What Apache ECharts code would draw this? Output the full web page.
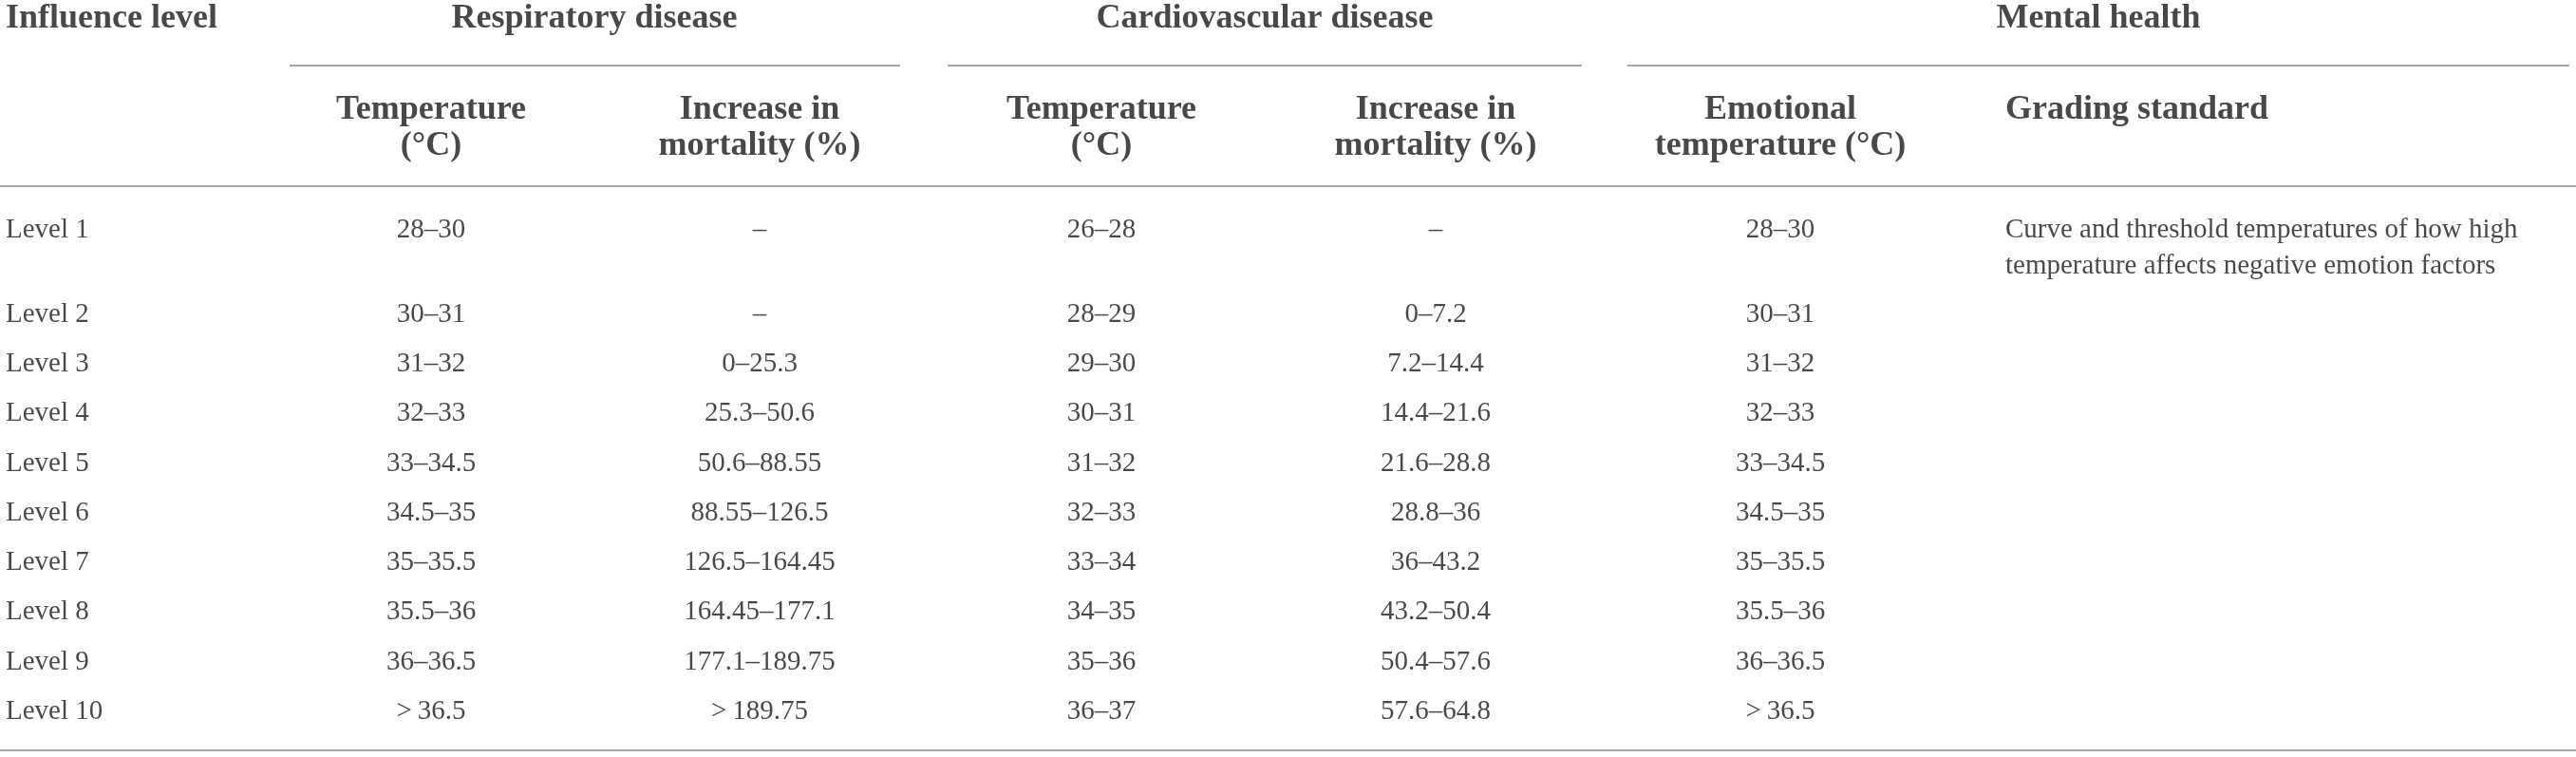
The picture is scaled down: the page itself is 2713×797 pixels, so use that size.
<!DOCTYPE html>
<html>
<head>
<meta charset="utf-8">
<title>Influence level table</title>
<script src="https://cdn.jsdelivr.net/npm/echarts@6/dist/echarts.min.js"></script>
<style>
    html, body { margin: 0; padding: 0; background: #fff; }
    #table-wrap { width: 2713px; height: 797px; }
</style>
</head>
<body>
<div id="table-wrap"></div>
<script>
// table contents
const levels = ["Level 1", "Level 2", "Level 3", "Level 4", "Level 5", "Level 6", "Level 7", "Level 8", "Level 9", "Level 10"];
const respTemp = ["28–30", "30–31", "31–32", "32–33", "33–34.5", "34.5–35", "35–35.5", "35.5–36", "36–36.5", ">\u200936.5"];
const respMortality = ["–", "–", "0–25.3", "25.3–50.6", "50.6–88.55", "88.55–126.5", "126.5–164.45", "164.45–177.1", "177.1–189.75", ">\u2009189.75"];
const cardioTemp = ["26–28", "28–29", "29–30", "30–31", "31–32", "32–33", "33–34", "34–35", "35–36", "36–37"];
const cardioMortality = ["–", "0–7.2", "7.2–14.4", "14.4–21.6", "21.6–28.8", "28.8–36", "36–43.2", "43.2–50.4", "50.4–57.6", "57.6–64.8"];
const emotionalTemp = ["28–30", "30–31", "31–32", "32–33", "33–34.5", "34.5–35", "35–35.5", "35.5–36", "36–36.5", ">\u200936.5"];
const gradingStandard = ["Curve and threshold temperatures of how high\ntemperature affects negative emotion factors"];

const groupHeaders = ["Respiratory disease", "Cardiovascular disease", "Mental health"];
const columnHeaders = ["Influence level", "Temperature\n(°C)", "Increase in\nmortality (%)", "Temperature\n(°C)", "Increase in\nmortality (%)", "Emotional\ntemperature (°C)", "Grading standard"];

// layout (pixels in axis space, grid covers the whole canvas)
const W = 2713, H = 797;
const colX = [6, 454, 800, 1160, 1512, 1875, 2112];
const colAlign = ["left", "center", "center", "center", "center", "center", "left"];
const groupX = [626, 1332, 2210];
const groupRules = [[305, 948], [998, 1666], [1714, 2706]];
const firstRowY = 242, secondRowY = 331, rowStep = 52.3;
const font = "Liberation Serif";
const ink = "#1a1a1a";
const ruleColor = "#a6a6a6";

function rowY(i) {
    return i === 0 ? firstRowY : secondRowY + (i - 1) * rowStep;
}

function textSeries(name, items, opts) {
    return {
        name: name,
        type: "scatter",
        symbolSize: 0,
        silent: true,
        itemStyle: { color: "transparent" },
        label: {
            show: true,
            position: "inside",
            formatter: (p) => p.data.text,
            align: opts.align,
            verticalAlign: "middle",
            fontFamily: font,
            fontSize: opts.size,
            fontWeight: opts.weight || "normal",
            lineHeight: opts.lineHeight || opts.size * 1.2,
            color: ink,
        },
        data: items,
    };
}

const bodyColumns = [levels, respTemp, respMortality, cardioTemp, cardioMortality, emotionalTemp];
const series = [];

bodyColumns.forEach((col, c) => {
    series.push(textSeries("col" + c, col.map((t, i) => ({ value: [colX[c], rowY(i)], text: t })), { align: colAlign[c], size: 29 }));
});

// grading standard text spans the first row, two lines
series.push(textSeries("grading", gradingStandard.map((t) => ({ value: [colX[6], firstRowY + 19], text: t })), { align: "left", size: 29, lineHeight: 38 }));

// header rows
series.push(textSeries("groups", groupHeaders.map((t, i) => ({ value: [groupX[i], 20], text: t })), { align: "center", size: 36, weight: "bold" }));
series.push(textSeries("influence", [{ value: [colX[0], 20], text: columnHeaders[0] }], { align: "left", size: 36, weight: "bold" }));
series.push(textSeries("subheads", columnHeaders.slice(1).map((t, i) => {
    const c = i + 1;
    const twoLine = t.indexOf("\n") >= 0;
    return { value: [colX[c], twoLine ? 135 : 116], text: t };
}), { align: "center", size: 36, weight: "bold", lineHeight: 38 }));
// left aligned header for grading standard
series[series.length - 1].data[5].label = { align: "left" };

// horizontal rules
const ruleLines = groupRules.map((r) => [{ coord: [r[0], 69] }, { coord: [r[1], 69] }]);
ruleLines.push([{ coord: [0, 196] }, { coord: [W, 196] }]);
ruleLines.push([{ coord: [0, 790] }, { coord: [W, 790] }]);
series.push({
    name: "rules",
    type: "scatter",
    data: [],
    markLine: {
        silent: true,
        symbol: "none",
        label: { show: false },
        lineStyle: { color: ruleColor, width: 2, type: "solid" },
        data: ruleLines,
    },
});

let myChart = echarts.init(document.querySelector("#table-wrap"));
const option = {
    animation: false,
    grid: { left: 0, right: 0, top: 0, bottom: 0 },
    xAxis: { type: "value", min: 0, max: W, show: false },
    yAxis: { type: "value", min: 0, max: H, inverse: true, show: false },
    series: series,
};
myChart.setOption(option);
window.addEventListener("resize", function () {
    myChart.resize();
});
</script>
</body>
</html>
